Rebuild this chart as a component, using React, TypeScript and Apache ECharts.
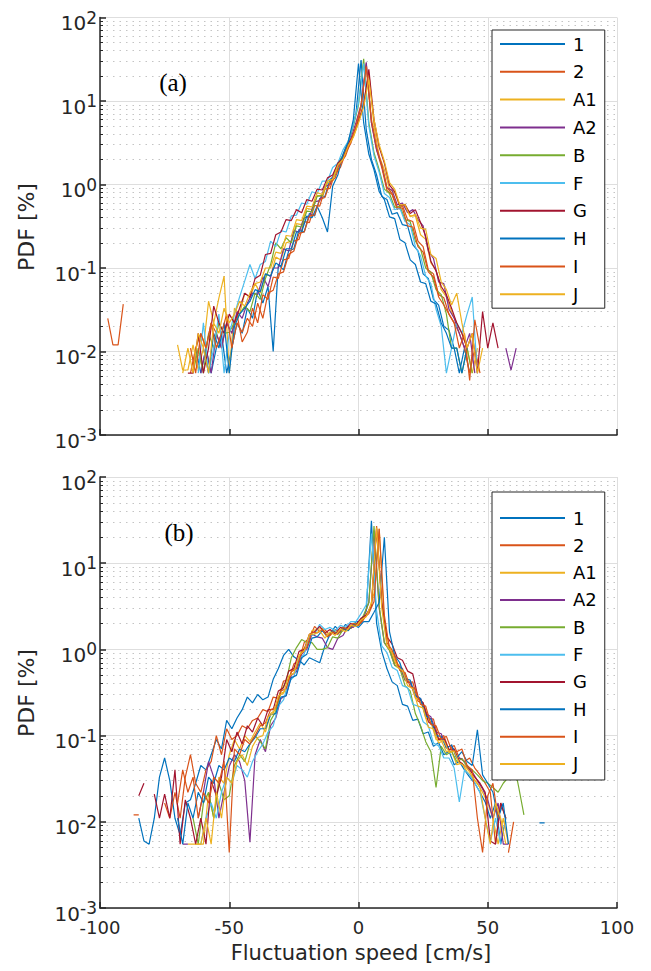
import React, { useEffect, useRef } from "react";
import * as echarts from "echarts";

// ---- legend / series identity ----
const seriesNames = ["1", "2", "A1", "A2", "B", "F", "G", "H", "I", "J"];
const seriesColors = ["#0072BD", "#D95319", "#EDB120", "#7E2F8E", "#77AC30", "#4DBEEE", "#A2142F", "#0072BD", "#D95319", "#EDB120"];
const xTickValues = [-100, -50, 0, 50, 100];
const binWidth = 2; // cm/s histogram bin width

// ---- panel (a): first bin centre of each series ----
const startA = [-63, -97, -70, -61, -64, -62, -66, -60, -65, -68];
const pdfA_1 = [0.011,0.0055,0.011,0.0055,0.011,0.0165,0.0055,0.011,0.022,0.0165,0.033,0.025,0.055,0.038,0.06,0.01,0.11,0.095,0.16,0.17,0.29,0.27,0.45,0.42,0.68,0.72,1.15,1.3,2.0,2.5,3.9,7,31,4.5,2.0,1.3,0.72,0.66,0.44,0.46,0.33,0.32,0.19,0.16,0.085,0.075,0.042,0.036,0.02,0.018,0.011,0.0055,0.011,0.0055];
const pdfA_2 = [0.025,0.012,0.012,0.037,null,null,null,null,null,null,null,null,null,null,null,null,0.0055,0.011,0.0165,0.011,0.022,0.0165,0.011,0.022,0.0165,0.028,0.013,0.017,0.033,0.022,0.048,0.042,0.078,0.075,0.125,0.13,0.21,0.22,0.36,0.35,0.56,0.55,0.88,0.9,1.4,1.6,2.4,3.1,4.8,8.5,28,5.5,2.6,1.6,0.85,0.76,0.5,0.56,0.38,0.36,0.21,0.18,0.095,0.085,0.048,0.044,0.028,0.022,0.0165,0.011,0.0055,0.011,0.0055];
const pdfA_A1 = [0.012,0.006,0.006,0.012,0.006,0.011,0.04,0.022,0.044,0.08,0.0055,0.033,0.028,0.05,0.044,0.065,0.05,0.085,0.08,0.135,0.125,0.2,0.21,0.34,0.33,0.52,0.5,0.74,0.72,1.05,1.1,1.7,2.0,2.9,3.7,5.5,9,22,5,2.2,1.5,0.88,0.8,0.55,0.58,0.42,0.42,0.25,0.22,0.115,0.095,0.055,0.045,0.03,0.022,0.0165,0.011,0.0055,0.011];
const pdfA_A2 = [0.0055,0.011,0.0055,0.0165,0.011,0.022,0.0165,0.03,0.025,0.038,0.05,0.048,0.078,0.06,0.1,0.1,0.17,0.16,0.28,0.27,0.4,0.41,0.62,0.64,0.95,1.0,1.5,1.8,2.7,3.5,5.5,9,29,5.5,2.6,1.7,0.92,0.85,0.57,0.6,0.46,0.5,0.38,0.32,0.16,0.13,0.068,0.065,0.032,0.025,0.0165,0.011,0.0165,0.0055,null,null,null,null,null,0.011,0.006,0.011];
const pdfA_B = [0.0055,0.011,0.0055,0.0165,0.011,0.022,0.0165,0.017,0.022,0.028,0.035,0.03,0.05,0.042,0.075,0.11,0.2,0.17,0.23,0.2,0.32,0.31,0.48,0.47,0.72,0.74,1.1,1.15,1.8,2.2,3.3,5,9,32,5.5,2.4,1.5,0.88,0.78,0.53,0.55,0.38,0.36,0.21,0.17,0.1,0.088,0.055,0.048,0.028,0.011,0.011,0.0055,0.011,0.0055];
const pdfA_F = [0.0055,0.022,0.0055,0.011,0.028,0.0055,0.0165,0.028,0.045,0.07,0.11,0.075,0.11,0.12,0.21,0.18,0.28,0.27,0.42,0.43,0.6,0.58,0.82,0.78,1.1,1.1,1.6,1.8,2.6,3.3,5.2,9.5,28,5,2.2,1.4,0.78,0.7,0.5,0.52,0.36,0.33,0.18,0.14,0.08,0.065,0.032,0.02,0.0055,0.011,0.022,0.0165,0.028,0.045,0.0055];
const pdfA_G = [0.0055,0.0055,0.0165,0.0055,0.011,0.035,0.022,0.0165,0.028,0.022,0.033,0.05,0.045,0.075,0.082,0.145,0.15,0.25,0.27,0.38,0.37,0.5,0.46,0.66,0.63,0.88,0.86,1.2,1.3,1.8,2.1,3.0,3.9,5.8,9,24,6,2.8,1.8,0.98,0.82,0.56,0.57,0.45,0.5,0.35,0.24,0.12,0.092,0.06,0.048,0.033,0.022,0.0165,0.011,0.0165,0.0055,0.03,0.011,0.022,0.011];
const pdfA_H = [0.011,0.0055,0.0165,0.011,0.022,0.0055,0.02,0.028,0.033,0.04,0.055,0.052,0.085,0.08,0.115,0.105,0.17,0.17,0.27,0.27,0.42,0.4,0.55,0.4,0.27,0.95,1.3,2.3,3.2,6,28,5.5,2.3,1.5,0.82,0.66,0.41,0.39,0.22,0.2,0.125,0.11,0.068,0.065,0.04,0.037,0.022,0.0165,0.011,0.011,0.0055,0.011];
const pdfA_I = [0.011,0.0055,0.0165,0.011,0.022,0.011,0.0165,0.028,0.011,0.022,0.017,0.025,0.02,0.038,0.025,0.05,0.054,0.085,0.09,0.145,0.16,0.26,0.27,0.42,0.43,0.66,0.7,1.05,1.2,1.8,2.2,3.3,5,9,26,6,2.8,1.7,0.92,0.78,0.53,0.52,0.32,0.31,0.18,0.155,0.09,0.078,0.045,0.036,0.028,0.022,0.011,0.0165,0.0045,0.024,0.011];
const pdfA_J = [0.0055,0.011,0.0055,0.0165,0.011,0.0055,0.022,0.0165,0.033,0.022,0.028,0.04,0.035,0.05,0.065,0.068,0.1,0.1,0.155,0.15,0.245,0.24,0.38,0.37,0.55,0.54,0.8,0.76,1.1,1.15,1.7,2.0,2.9,3.7,5.5,8.5,18,6,3.0,1.9,1.05,0.88,0.57,0.57,0.41,0.44,0.3,0.29,0.145,0.13,0.068,0.055,0.036,0.05,0.022,0.011,0.0165,0.0055,0.011];

// ---- panel (b) ----
const startB = [-85, -87, -66, -68, -64, -61, -85, -70, -70, -63];
const pdfB_1 = [0.011,0.006,0.0055,0.011,0.033,0.055,0.03,0.011,0.007,0.0165,0.018,0.028,0.045,0.04,0.06,0.09,0.07,0.15,0.12,0.16,0.2,0.28,0.24,0.3,0.26,0.28,0.45,0.6,0.85,1.0,0.82,0.75,0.66,0.8,0.75,0.7,1.1,1.5,1.85,1.6,1.95,1.75,2.1,2.1,2.8,31,2.0,0.95,0.6,0.42,0.38,0.23,0.22,0.15,0.155,0.105,0.11,0.075,0.083,0.06,0.066,0.046,0.05,0.04,0.033,0.028,0.022,0.017,0.011,0.0165,0.0055,0.011];
const pdfB_2 = [0.012,0.012,null,null,null,null,0.0165,0.011,0.022,0.011,0.033,0.06,0.028,0.022,0.04,0.05,0.1,0.06,0.12,0.09,0.1,0.13,0.12,0.15,0.16,0.2,0.19,0.28,0.27,0.43,0.44,0.68,0.74,1.2,1.35,1.85,1.6,1.7,1.45,1.7,1.55,1.8,1.75,2.0,2.0,2.5,3.2,27,3.5,1.2,0.98,0.66,0.6,0.41,0.42,0.25,0.24,0.16,0.155,0.09,0.1,0.068,0.077,0.055,0.05,0.055,0.042,0.035,0.028,0.022,0.0055,0.0165,0.011];
const pdfB_A1 = [0.0055,0.0055,0.0055,0.0055,0.022,0.011,0.033,0.028,0.06,0.09,0.07,0.1,0.085,0.11,0.14,0.11,0.18,0.2,0.31,0.33,0.55,0.62,0.98,1.1,1.65,1.7,1.75,1.45,1.65,1.55,1.8,1.7,1.95,1.9,2.4,2.8,4.5,25,2.0,1.05,0.7,0.65,0.44,0.42,0.27,0.26,0.16,0.145,0.09,0.088,0.065,0.066,0.046,0.048,0.038,0.033,0.028,0.022,0.0165,0.011,0.0055,0.011,0.0055];
const pdfB_A2 = [0.0055,0.0055,null,0.011,0.022,0.05,0.033,0.011,0.022,0.044,0.06,0.05,0.03,0.0058,0.06,0.09,0.065,0.13,0.16,0.27,0.29,0.5,0.55,0.88,1.0,1.5,1.4,1.35,1.05,1.0,1.35,1.45,1.85,1.8,2.1,2.4,3.5,24,3.0,1.2,0.98,0.66,0.63,0.44,0.41,0.29,0.27,0.18,0.165,0.11,0.105,0.072,0.077,0.055,0.054,0.045,0.038,0.03,0.024,0.018,0.011,0.0165,0.0055,0.0055];
const pdfB_B = [0.011,0.0055,0.0165,0.022,0.011,0.028,0.018,0.02,0.045,0.06,0.05,0.08,0.1,0.085,0.07,0.15,0.19,0.33,0.42,0.8,1.05,1.3,1.2,1.2,1.0,1.0,1.05,1.4,1.35,1.7,1.65,2.0,1.95,2.5,3.5,27,3.2,1.2,0.97,0.65,0.6,0.38,0.33,0.18,0.13,0.085,0.065,0.025,0.075,0.06,0.066,0.05,0.054,0.044,0.04,0.035,0.03,0.028,0.025,0.022,0.028,0.033,0.05,0.025,0.012];
const pdfB_F = [0.0055,0.011,0.0165,0.011,0.022,0.033,0.028,0.045,0.04,0.033,0.05,0.065,0.08,0.11,0.13,0.22,0.26,0.42,0.48,0.78,0.88,1.4,1.5,1.95,1.7,1.8,1.65,1.9,1.8,2.1,2.1,2.6,3.3,22,2.8,1.1,0.92,0.62,0.57,0.38,0.36,0.23,0.22,0.145,0.13,0.082,0.076,0.055,0.055,0.042,0.017,0.04,0.035,0.028,0.022,0.011,0.0058,0.011,0.0055];
const pdfB_G = [0.02,0.028,null,0.021,0.011,0.021,0.011,0.04,0.0055,0.018,0.011,0.0055,0.011,0.0055,0.03,0.02,0.033,0.09,0.065,0.11,0.08,0.13,0.11,0.16,0.13,0.2,0.2,0.33,0.36,0.56,0.6,0.95,1.0,1.5,1.6,1.85,1.55,1.7,1.5,1.8,1.7,2.0,1.9,2.3,2.5,3.2,25,3.5,1.4,1.15,0.8,0.75,0.56,0.52,0.28,0.24,0.145,0.13,0.09,0.093,0.068,0.07,0.05,0.045,0.04,0.033,0.028,0.022,0.006,0.0055,0.0165,0.011];
const pdfB_H = [0.011,0.0055,0.0165,0.011,0.022,0.0165,0.033,0.028,0.045,0.04,0.055,0.05,0.07,0.065,0.08,0.095,0.12,0.12,0.175,0.18,0.28,0.29,0.47,0.5,0.8,0.88,1.35,1.4,1.65,1.4,1.65,1.5,1.8,1.65,1.95,1.8,2.1,2.1,2.7,3.5,20,1.6,0.85,0.7,0.46,0.44,0.29,0.27,0.17,0.155,0.1,0.098,0.072,0.078,0.055,0.065,0.05,0.045,0.117,0.035,0.028,0.022,0.011,0.0165,0.0055,null,null,null,null,null,0.0097,0.0097];
const pdfB_I = [0.0165,0.04,0.022,0.033,0.011,0.022,0.0165,0.033,0.028,0.05,0.0044,0.07,0.06,0.09,0.08,0.1,0.13,0.14,0.2,0.21,0.33,0.35,0.55,0.6,0.92,1.05,1.6,1.55,1.7,1.4,1.6,1.5,1.8,1.7,2.0,1.9,2.3,2.6,3.6,25,2.5,1.0,0.86,0.57,0.54,0.37,0.35,0.23,0.22,0.135,0.13,0.09,0.098,0.068,0.065,0.07,0.045,0.04,0.011,0.0044,0.02,0.028,0.011,null,0.0044,0.01];
const pdfB_J = [0.0055,0.0055,0.011,0.0055,0.022,0.011,0.033,0.028,0.05,0.06,0.045,0.075,0.095,0.1,0.165,0.18,0.29,0.31,0.49,0.53,0.86,0.96,1.5,1.5,1.65,1.35,1.6,1.45,1.72,1.6,1.9,1.85,2.2,2.4,3.4,26,3.0,1.1,0.92,0.62,0.57,0.38,0.35,0.22,0.21,0.125,0.12,0.082,0.088,0.064,0.066,0.048,0.045,0.038,0.03,0.025,0.011,0.0055,0.0165,0.011,0.0055];

const pdfA = [pdfA_1, pdfA_2, pdfA_A1, pdfA_A2, pdfA_B, pdfA_F, pdfA_G, pdfA_H, pdfA_I, pdfA_J];
const pdfB = [pdfB_1, pdfB_2, pdfB_A1, pdfB_A2, pdfB_B, pdfB_F, pdfB_G, pdfB_H, pdfB_I, pdfB_J];

const FONT = "DejaVu Sans";
const INK = "#262626";

function toPoints(start: number, vals: (number | null)[]) {
  return vals.map((v, i) => [start + binWidth * i, v === null ? "-" : v]);
}

export default function App() {
  const ref = useRef<HTMLDivElement>(null);
  useEffect(() => {
    const chart = echarts.init(ref.current!, null, { renderer: "svg" });

    const xAxis = (gridIndex: number, showLabels: boolean) => ({
      type: "value",
      gridIndex,
      min: xTickValues[0],
      max: xTickValues[xTickValues.length - 1],
      interval: xTickValues[1] - xTickValues[0],
      axisLine: { show: true, onZero: false, lineStyle: { color: INK, width: 1.5 } },
      axisTick: { show: true, inside: true, length: 6, lineStyle: { color: INK, width: 1.5 } },
      axisLabel: {
        show: showLabels,
        margin: 10,
        showMinLabel: true,
        showMaxLabel: true,
        fontFamily: FONT,
        fontSize: 18,
        lineHeight: 18,
        color: INK,
      },
      splitLine: { show: true, lineStyle: { color: "#dedede", width: 1 } },
    });

    const yAxis = (gridIndex: number) => ({
      type: "log",
      logBase: 10,
      gridIndex,
      min: 0.001,
      max: 100,
      axisLine: { show: true, onZero: false, lineStyle: { color: INK, width: 1.5 } },
      axisTick: { show: true, inside: true, length: 6, lineStyle: { color: INK, width: 1.5 } },
      minorTick: { show: true, splitNumber: 9, length: 3, lineStyle: { color: INK, width: 1 } },
      splitLine: { show: true, lineStyle: { color: "#dedede", width: 1 } },
      minorSplitLine: { show: true, lineStyle: { color: "#c4c4c4", width: 1, type: [1.5, 5] } },
      axisLabel: {
        margin: 3,
        padding: [11, 0, 0, 0],
        formatter: (v: number) => `{b|10}{e|${Math.round(Math.log10(v))}}`,
        rich: {
          b: { fontSize: 20, lineHeight: 20, fontFamily: FONT, color: INK, verticalAlign: "bottom" },
          e: { fontSize: 17, lineHeight: 17, fontFamily: FONT, color: INK, verticalAlign: "bottom", padding: [0, 0, 7, 0] },
        },
      },
    });

    const legend = (top: number, padding: number[], itemGap: number) => ({
      data: seriesNames,
      orient: "vertical",
      left: 492,
      top,
      padding,
      itemGap,
      itemWidth: 65,
      itemHeight: 2,
      icon: "rect",
      selectedMode: false,
      borderColor: INK,
      borderWidth: 1,
      borderRadius: 0,
      backgroundColor: "#ffffff",
      textStyle: { fontSize: 18, lineHeight: 20, fontFamily: FONT, color: "#000", padding: [0, 0, 0, 3] },
    });

    const series: any[] = [];
    [pdfA, pdfB].forEach((panel, g) => {
      const starts = g === 0 ? startA : startB;
      panel.forEach((vals, k) => {
        series.push({
          type: "line",
          name: seriesNames[k],
          xAxisIndex: g,
          yAxisIndex: g,
          data: toPoints(starts[k], vals),
          showSymbol: false,
          symbol: "none",
          connectNulls: false,
          clip: true,
          silent: true,
          color: seriesColors[k],
          lineStyle: { color: seriesColors[k], width: 1.2 },
        });
      });
    });

    chart.setOption({
      animation: false,
      textStyle: { fontFamily: FONT },
      grid: [
        { left: 100, top: 17.5, width: 517, height: 417.5 },
        { left: 100, top: 477, width: 517, height: 431 },
      ],
      xAxis: [xAxis(0, false), xAxis(1, true)],
      yAxis: [yAxis(0), yAxis(1)],
      legend: [legend(30, [4, 8, 4, 8], 7.8), legend(492, [16, 8, 6, 8], 7.33)],
      series,
      graphic: [
        { type: "text", z: 101, x: 26.5, y: 227, rotation: Math.PI / 2, style: { text: "PDF [%]", fontSize: 22, fontFamily: FONT, fill: INK, align: "center", verticalAlign: "middle" } },
        { type: "text", z: 101, x: 26.5, y: 693, rotation: Math.PI / 2, style: { text: "PDF [%]", fontSize: 22, fontFamily: FONT, fill: INK, align: "center", verticalAlign: "middle" } },
        { type: "text", z: 101, x: 361, y: 953, style: { text: "Fluctuation speed [cm/s]", fontSize: 21, fontFamily: FONT, fill: INK, align: "center", verticalAlign: "middle" } },
        { type: "text", z: 101, x: 173, y: 82, style: { text: "(a)", fontSize: 25, fontFamily: "Liberation Serif", fill: "#000", align: "center", verticalAlign: "middle" } },
        { type: "text", z: 101, x: 179, y: 532.5, style: { text: "(b)", fontSize: 25, fontFamily: "Liberation Serif", fill: "#000", align: "center", verticalAlign: "middle" } },
      ],
    });
    return () => chart.dispose();
  }, []);
  return <div ref={ref} style={{ position: "absolute", left: 0, top: 0, width: 651, height: 971 }} />;
}
